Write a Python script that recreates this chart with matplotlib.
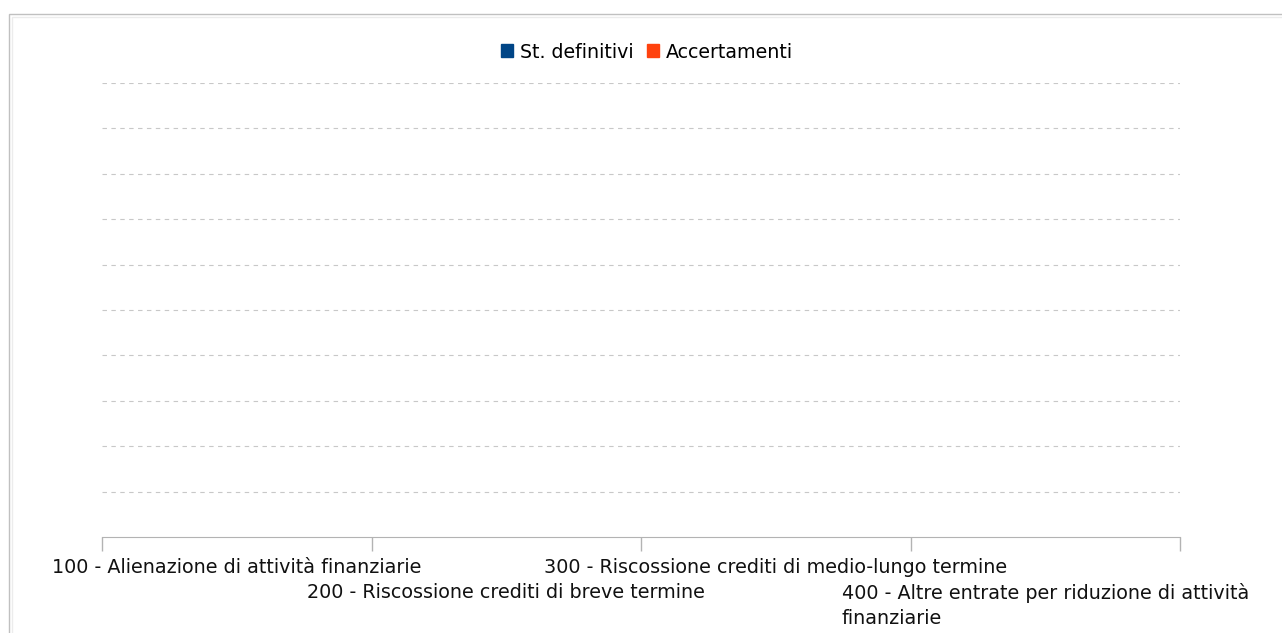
import matplotlib
matplotlib.use("Agg")
import matplotlib.pyplot as plt
from matplotlib.patches import Rectangle, Patch
import numpy as np

categories = [
    "100 - Alienazione di attività finanziarie",
    "200 - Riscossione crediti di breve termine",
    "300 - Riscossione crediti di medio-lungo termine",
    "400 - Altre entrate per riduzione di attività\nfinanziarie",
]
series_names = ["St. definitivi", "Accertamenti"]
st_definitivi = [0, 0, 0, 0]
accertamenti = [0, 0, 0, 0]
colors = ["#004586", "#ff420e"]

plt.rcParams["font.family"] = ["DejaVu Sans"]

W, H = 1282, 633
fig = plt.figure(figsize=(W / 100, H / 100), dpi=100)

# outer frame (light gray double line, open at right/bottom)
fig.patches.append(Rectangle((9 / W, -0.1), 1.2, (H - 14) / H + 0.1, transform=fig.transFigure,
                             fill=False, edgecolor="#c0c0c0", linewidth=1.0))
fig.patches.append(Rectangle((12 / W, -0.1), 1.2, (H - 17) / H + 0.1, transform=fig.transFigure,
                             fill=False, edgecolor="#ececec", linewidth=1.0))

ax = fig.add_axes([102 / W, 1 - 537 / H, (1180 - 102) / W, (537 - 83) / H])
x = np.arange(len(categories))
width = 0.35
ax.bar(x - width / 2, st_definitivi, width, color=colors[0])
ax.bar(x + width / 2, accertamenti, width, color=colors[1])

ax.set_xlim(-0.5, len(categories) - 0.5)
ax.set_ylim(0, 10)
ax.set_yticks(np.arange(1, 11))
ax.yaxis.grid(True, linestyle=(0, (4, 4)), color="#c8c8c8", linewidth=0.8)
ax.tick_params(axis="y", left=False, labelleft=False)
for s in ["top", "right", "left"]:
    ax.spines[s].set_visible(False)
ax.spines["bottom"].set_color("#b3b3b3")

ax.set_xticks(np.arange(-0.5, len(categories)))
ax.set_xticklabels([])
ax.tick_params(axis="x", length=10, color="#b3b3b3", width=1)

# staggered category labels
for i, lab in enumerate(categories):
    off = -21 if i % 2 == 0 else -46
    ax.annotate(lab, xy=(i, 0), xycoords=("data", "axes fraction"),
                xytext=(0, off), textcoords="offset pixels",
                ha="center", va="top", multialignment="left",
                fontsize=13.8, color="#111111", linespacing=1.43)

handles = [Patch(color=c, label=n) for c, n in zip(colors, series_names)]
fig.legend(handles=handles, loc="center", bbox_to_anchor=(647 / W, 1 - 52 / H),
           ncol=2, frameon=False, fontsize=13.7, handlelength=0.65, handleheight=0.65,
           handletextpad=0.35, columnspacing=0.7)

fig.savefig("out.png", dpi=100)
